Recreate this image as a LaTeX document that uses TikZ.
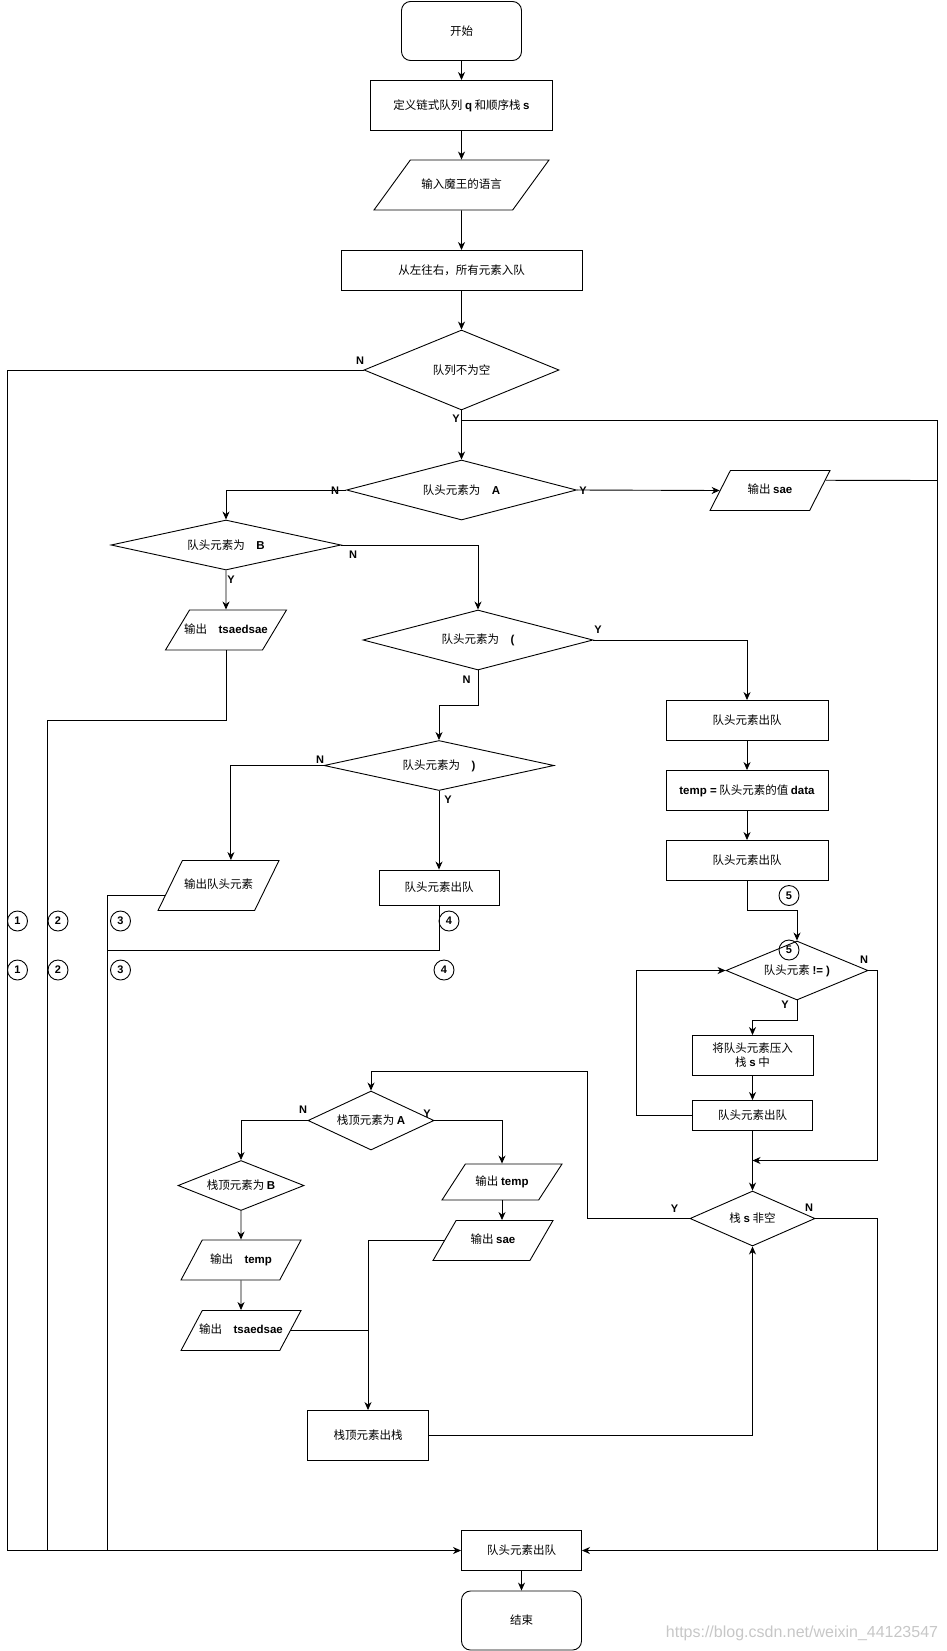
\documentclass[tikz,border=0pt]{standalone}
\usepackage{fontspec}
\setmainfont{Noto Sans CJK SC}
\newfontfamily\latinfont{Liberation Sans}
\usetikzlibrary{arrows.meta,shapes.geometric,calc}
\newcommand{\bt}[1]{{\latinfont\bfseries #1}}
\tikzset{
  term/.style={draw, rounded corners=9pt, minimum width=120pt, minimum height=59pt, inner sep=2pt},
  proc/.style={draw, rectangle, minimum width=120pt, minimum height=40pt, inner sep=2pt, align=center},
  io/.style n args={3}{draw, trapezium, trapezium left angle=#1, trapezium right angle=#2,
              trapezium stretches body, text height=9pt, text depth=2.5pt,
              inner xsep=1pt, inner ysep={(#3-11.5pt)/2}, minimum width=120pt},
  dec/.style={draw, diamond, inner sep=0pt, shape aspect=4, minimum width=230pt, minimum height=60pt},
  yn/.style={font=\latinfont\bfseries\fontsize{11}{12}\selectfont, inner sep=0pt},
  num/.style={draw, circle, minimum size=20pt, inner sep=0pt, font=\latinfont\bfseries\fontsize{11}{12}\selectfont},
  wmark/.style={font=\latinfont\fontsize{16}{16}\selectfont, text=black!22, inner sep=0pt},
  link/.style={-{Stealth[length=8pt,width=7pt,inset=2.5pt]}},
  wire/.style={-}
}
\begin{document}
\begin{tikzpicture}[x=1pt,y=-1pt,line width=0.9pt,
  every node/.append style={font=\fontsize{11.5}{14}\selectfont}]
  \useasboundingbox (0,0) rectangle (946,1651);

  % main column
  \node[term] (start) at (461.5,31) {开始};
  \node[proc, minimum width=182pt, minimum height=50pt] (def) at (461.5,105.5) {定义链式队列 \bt{q} 和顺序栈 \bt{s}};
  \node[io={54}{126}{50pt}, minimum width=175pt] (input) at (461.5,185) {输入魔王的语言};
  \node[proc, minimum width=241pt] (enq) at (461.5,270.5) {从左往右，所有元素入队};
  \node[dec, shape aspect=2.4, minimum width=195pt, minimum height=80pt] (qne) at (461.5,370) {队列不为空};
  \node[dec] (isA) at (461.5,490) {队头元素为\quad\bt{A}};
  \node[io={63}{117}{40pt}] (outSae) at (770,490.5) {输出 \bt{sae}};
  \node[dec, minimum height=50pt] (isB) at (226,545) {队头元素为\quad\bt{B}};
  \node[io={59}{121}{40pt}, minimum width=121pt] (outTs) at (226,630) {\makebox[60pt]{输出\quad\bt{tsaedsae}}};
  \node[dec] (isL) at (478,640) {队头元素为\quad\bt{(}};
  \node[dec, minimum height=50pt] (isR) at (439,765.5) {队头元素为\quad\bt{)}};
  \node[io={64}{116}{50pt}, minimum width=121pt] (outHead) at (218.5,885.5) {输出队头元素};
  \node[proc, minimum height=35pt] (deqR) at (439,887.5) {队头元素出队};

  % right column: bracket
  \node[proc, minimum width=162pt] (deqL1) at (747,720.5) {队头元素出队};
  \node[proc, minimum width=162pt] (temp) at (747,790.5) {\bt{temp =} 队头元素的值 \bt{data}};
  \node[proc, minimum width=162pt] (deqL2) at (747,860.5) {队头元素出队};
  \node[dec, shape aspect=2.4, minimum width=142pt, minimum height=59pt] (notR) at (797,970.5) {\raisebox{-4pt}{队头元素 \bt{!= )}}};
  \node[proc, minimum width=121pt] (push) at (752.5,1055.5) {将队头元素压入\\栈 \bt{s} 中};
  \node[proc, minimum width=120pt, minimum height=30pt] (deqL3) at (752.5,1115.5) {队头元素出队};
  \node[dec, shape aspect=2.3, minimum width=125pt, minimum height=55pt] (sne) at (752.5,1218.5) {栈 \bt{s} 非空};

  % stack part
  \node[dec, shape aspect=2.2, minimum width=126pt, minimum height=59pt] (topA) at (371,1120.5) {栈顶元素为 \bt{A}};
  \node[dec, shape aspect=2.5, minimum width=126pt, minimum height=50pt] (topB) at (241,1185.5) {栈顶元素为 \bt{B}};
  \node[io={62}{118}{40pt}] (outTL) at (241,1260) {输出\quad\bt{temp}};
  \node[io={62}{118}{40pt}] (outTsL) at (241,1330.5) {\makebox[60pt]{输出\quad\bt{tsaedsae}}};
  \node[io={57}{123}{36pt}] (outTR) at (502,1182) {输出 \bt{temp}};
  \node[io={60}{120}{40pt}] (outSR) at (493,1240.5) {输出 \bt{sae}};
  \node[proc, minimum width=121pt, minimum height=50pt] (pop) at (368,1435.5) {栈顶元素出栈};

  \node[proc] (deqEnd) at (521.5,1550.5) {队头元素出队};
  \node[term] (stop) at (521.5,1620.5) {结束};

  % connectors, main column
  \draw[link] (start) -- (def);
  \draw[link] (def) -- (input);
  \draw[link] (input) -- (enq);
  \draw[link] (enq) -- (qne);
  \draw[link] (qne) -- (isA);
  \draw[link] (isA.west) -| (isB.north);
  \draw[link] (isA.east) -- (outSae.west);
  \draw[link] (isB.east) -| (isL.north);
  \draw[link] (isB.south) -- (outTs.north);
  \draw[link] (isL.east) -| (deqL1.north);
  \draw[link] (isL.south) -- ++(0,35) -| (isR.north);
  \draw[link] (isR.west) -| (outHead.top side);
  \draw[link] (isR.south) -- (deqR.north);

  % rails to the end
  \coordinate (railA) at (7.5,1550.5);
  \coordinate (railB) at (47.5,1550.5);
  \coordinate (railC) at (107.5,1550.5);
  \coordinate (railD) at (877.5,1550.5);
  \coordinate (railE) at (937.5,1550.5);
  \draw[link] (qne.west) -| (railA) -- (deqEnd.west);
  \draw[wire] (outTs.south) |- (47.5,720.5) -- (railB);
  \draw[wire] ($(outHead.bottom left corner)!0.3!(outHead.top left corner)$) -| (railC);
  \draw[wire] (deqR.south) |- (107.5,950.5);
  \draw[link] ($(qne.south)+(0,10)$) -| (railE) -- (deqEnd.east);
  \draw[wire] ($(outSae.top right corner)!0.25!(outSae.bottom right corner)$) -- (937.5,480.5);
  \draw[wire] (sne.east) -| (railD);
  \draw[link] (deqEnd) -- (stop);

  % connectors, right column
  \draw[link] (deqL1) -- (temp);
  \draw[link] (temp) -- (deqL2);
  \draw[link] (deqL2.south) -- ++(0,29.5) -| (notR.north);
  \draw[link] (notR.south) -- ++(0,20) -| (push.north);
  \coordinate (join) at (752.5,1160.5);
  \draw[link] (notR.east) -| (877.5,1160.5) -- (join);
  \draw[link] (push) -- (deqL3);
  \draw[link] (deqL3.west) -- (636.5,1115.5) |- (notR.west);
  \draw[link] (deqL3) -- (sne);
  \draw[link] (sne.west) -| (587,1071) -| (topA.north);

  % connectors, stack part
  \draw[link] (topA.west) -| (topB.north);
  \draw[link] (topA.east) -| (outTR.north);
  \draw[link] (outTR.south) -- (outTR.south |- outSR.top side);
  \draw[link] (outSR.west) -| (pop.north);
  \draw[link] (topB) -- (outTL);
  \draw[link] (outTL) -- (outTsL);
  \draw[wire] (outTsL.east) -- (outTsL.east -| pop.north);
  \draw[link] (pop.east) -| (sne.south);

  % Y / N labels
  \node[yn] (qN) at (360,361) {N};
  \node[yn] (qY) at (456,419) {Y};
  \node[yn] (aN) at (335,491) {N};
  \node[yn] (aY) at (583,491) {Y};
  \node[yn] (bN) at (353,555) {N};
  \node[yn] (bY) at (231,580) {Y};
  \node[yn] (lY) at (598,629.5) {Y};
  \node[yn] (lN) at (466.5,680) {N};
  \node[yn] (rN) at (320,759.5) {N};
  \node[yn] (rY) at (448,799.5) {Y};
  \node[yn] (neN) at (864,959.5) {N};
  \node[yn] (neY) at (785,1004.5) {Y};
  \node[yn] (taN) at (303,1110) {N};
  \node[yn] (taY) at (427,1113.5) {Y};
  \node[yn] (sY) at (674.5,1208.5) {Y};
  \node[yn] (sN) at (809,1207.5) {N};

  % circled markers
  \node[num] (m1a) at (17.5,921) {1};
  \node[num] (m2a) at (58,921) {2};
  \node[num] (m3a) at (120.5,921) {3};
  \node[num] (m4a) at (449,921) {4};
  \node[num] (m1b) at (17.5,970) {1};
  \node[num] (m2b) at (58,970) {2};
  \node[num] (m3b) at (120.5,970) {3};
  \node[num] (m4b) at (444,970) {4};
  \node[num] (m5a) at (789,895.5) {5};
  \node[num] (m5b) at (789,950) {5};

  \node[wmark] (url) at (802,1633.5) {https://blog.csdn.net/weixin\_44123547};
\end{tikzpicture}
\end{document}
